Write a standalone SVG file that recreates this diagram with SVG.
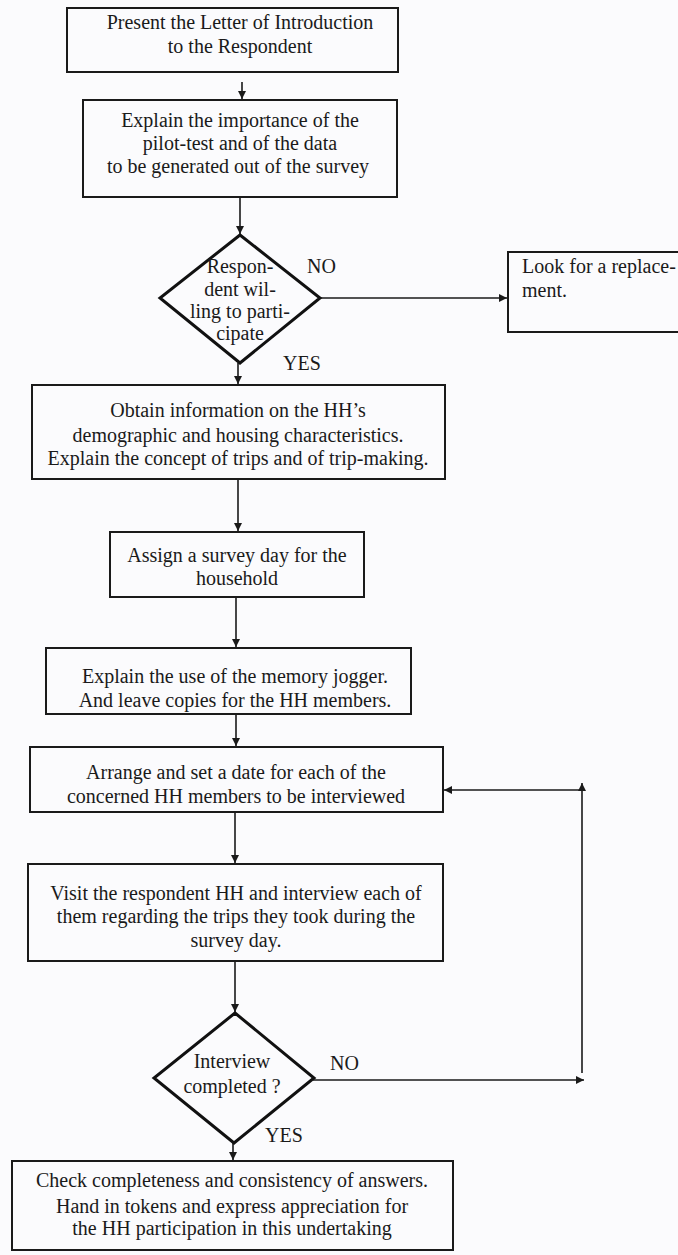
<svg xmlns="http://www.w3.org/2000/svg" width="678" height="1255" viewBox="0 0 678 1255">
<style>
text{font-family:"Liberation Serif","Times New Roman",serif;font-size:20px;fill:#1a1a1a;text-anchor:middle}
.box{fill:none;stroke:#1a1a1a;stroke-width:2}
.dia{fill:none;stroke:#111;stroke-width:3}
.con{fill:none;stroke:#1a1a1a;stroke-width:1.6}
.lbl{text-anchor:start}
</style>
<defs>
<marker id="ah" viewBox="0 0 10 10" refX="10" refY="5" markerWidth="8" markerHeight="8" markerUnits="userSpaceOnUse" orient="auto">
<path d="M0,0 L10,5 L0,10 z" fill="#1a1a1a"/>
</marker>
</defs>
<rect width="678" height="1255" fill="#fbfbfd"/>
<g id="connectors">
<line class="con" x1="242" y1="82" x2="242" y2="99" marker-end="url(#ah)"/>
<line class="con" x1="240" y1="197" x2="240" y2="234" marker-end="url(#ah)"/>
<line class="con" x1="320" y1="298" x2="507" y2="298" marker-end="url(#ah)"/>
<line class="con" x1="238" y1="363" x2="238" y2="384" marker-end="url(#ah)"/>
<line class="con" x1="238" y1="479" x2="238" y2="531" marker-end="url(#ah)"/>
<line class="con" x1="236" y1="597" x2="236" y2="647" marker-end="url(#ah)"/>
<line class="con" x1="236" y1="714" x2="236" y2="746" marker-end="url(#ah)"/>
<line class="con" x1="235" y1="812" x2="235" y2="863" marker-end="url(#ah)"/>
<line class="con" x1="235" y1="961" x2="235" y2="1012" marker-end="url(#ah)"/>
<line class="con" x1="313" y1="1080" x2="584" y2="1080" marker-end="url(#ah)"/>
<line class="con" x1="582" y1="1073" x2="582" y2="783" marker-end="url(#ah)"/>
<line class="con" x1="582" y1="790" x2="444" y2="790" marker-end="url(#ah)"/>
<line class="con" x1="233" y1="1143" x2="233" y2="1160" marker-end="url(#ah)"/>
<text class="lbl" x="307" y="273">NO</text>
<text class="lbl" x="283" y="370">YES</text>
<text class="lbl" x="330" y="1070">NO</text>
<text class="lbl" x="265" y="1142">YES</text>
</g>
<g id="n1">
<rect class="box" x="67" y="8" width="331" height="64"/>
<text x="240" y="29">Present the Letter of Introduction</text>
<text x="240" y="53">to the Respondent</text>
</g>
<g id="n2">
<rect class="box" x="83" y="100" width="314" height="97"/>
<text x="240" y="127">Explain the importance of the</text>
<text x="240" y="150">pilot-test and of the data</text>
<text x="238" y="173">to be generated out of the survey</text>
</g>
<g id="n3">
<polygon class="dia" points="240,235 320,298 240,363 160,298"/>
<text x="240" y="273">Respon-</text>
<text x="240" y="296">dent wil-</text>
<text x="240" y="318">ling to parti-</text>
<text x="240" y="340">cipate</text>
</g>
<g id="n4">
<rect class="box" x="508" y="252" width="185" height="80"/>
<text class="lbl" x="522" y="273">Look for a replace-</text>
<text class="lbl" x="522" y="297">ment.</text>
</g>
<g id="n5">
<rect class="box" x="32" y="385" width="413" height="94"/>
<text x="238" y="417">Obtain information on the HH’s</text>
<text x="238" y="442">demographic and housing characteristics.</text>
<text x="238" y="465">Explain the concept of trips and of trip-making.</text>
</g>
<g id="n6">
<rect class="box" x="110" y="532" width="254" height="65"/>
<text x="237" y="562">Assign a survey day for the</text>
<text x="237" y="585">household</text>
</g>
<g id="n7">
<rect class="box" x="46" y="648" width="365" height="66"/>
<text x="235" y="683">Explain the use of the memory jogger.</text>
<text x="235" y="707">And leave copies for the HH members.</text>
</g>
<g id="n8">
<rect class="box" x="30" y="747" width="413" height="65"/>
<text x="236" y="779">Arrange and set a date for each of the</text>
<text x="236" y="803">concerned HH members to be interviewed</text>
</g>
<g id="n9">
<rect class="box" x="28" y="864" width="415" height="97"/>
<text x="236" y="900">Visit the respondent HH and interview each of</text>
<text x="236" y="923">them regarding the trips they took during the</text>
<text x="236" y="947">survey day.</text>
</g>
<g id="n10">
<polygon class="dia" points="235,1013 314,1078 234,1143 154,1078"/>
<text x="232" y="1068">Interview</text>
<text x="232" y="1093">completed ?</text>
</g>
<g id="n11">
<rect class="box" x="12" y="1161" width="441" height="89"/>
<text x="232" y="1187">Check completeness and consistency of answers.</text>
<text x="232" y="1213">Hand in tokens and express appreciation for</text>
<text x="232" y="1235">the HH participation in this undertaking</text>
</g>
</svg>
